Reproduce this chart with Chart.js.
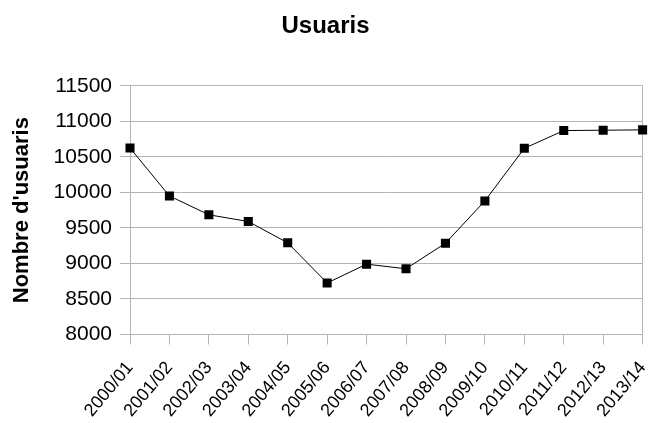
<!DOCTYPE html>
<html>
<head>
<meta charset="utf-8">
<script src="https://cdn.jsdelivr.net/npm/chart.js@4/dist/chart.umd.min.js"></script>
<style>
  html, body { margin: 0; padding: 0; background: #fff; }
  #wrap { width: 649px; height: 423px; position: relative; }
</style>
</head>
<body>
<div id="wrap"><canvas id="usuaris"></canvas></div>
<script>
const seasons = ["2000/01", "2001/02", "2002/03", "2003/04", "2004/05", "2005/06", "2006/07",
  "2007/08", "2008/09", "2009/10", "2010/11", "2011/12", "2012/13", "2013/14"];
const users = [10625, 9950, 9685, 9590, 9290, 8725, 8990, 8925, 9285, 9880, 10620, 10870, 10875, 10880];
const yMin = 8000;
const yMax = 11500;
const yStep = 500;

(function () {
  const FONT = "'Liberation Sans', Arial, sans-serif";
  const GRID = "#b3b3b3";
  const lastIdx = seasons.length - 1;

  new Chart(document.getElementById("usuaris"), {
    type: "line",
    data: {
      labels: seasons,
      datasets: [{
        label: "Usuaris",
        data: users,
        borderColor: "#000",
        borderWidth: 1,
        tension: 0,
        pointStyle: "rect",
        pointRadius: 6.4,
        pointBackgroundColor: "#000",
        pointBorderWidth: 0,
        fill: false,
      }],
    },
    options: {
      responsive: true,
      maintainAspectRatio: false,
      animation: false,
      layout: { padding: { left: 0, right: -2, top: 0, bottom: 0 } },
      plugins: {
        legend: { display: false },
        tooltip: { enabled: false },
        title: {
          display: true,
          text: "Usuaris",
          color: "#000",
          font: { family: FONT, size: 24, weight: "bold" },
          padding: { top: 12, bottom: 45 },
        },
      },
      scales: {
        x: {
          offset: false,
          grid: {
            // only the outer frame lines reach into the plot; ticks stay on every label
            color: c => (c.index === 0 || c.index === lastIdx ? GRID : "transparent"),
            tickColor: GRID,
            tickLength: 10,
            drawOnChartArea: true,
          },
          border: { color: GRID },
          ticks: {
            color: "#000",
            font: { family: FONT, size: 18 },
            minRotation: 50,
            maxRotation: 50,
            padding: 13,
            autoSkip: false,
          },
          afterFit: s => {
            s.height = 88.5;
            s.paddingLeft = 0;
            s.paddingRight = 0;
          },
        },
        y: {
          min: yMin,
          max: yMax,
          grid: { color: GRID, tickColor: GRID, tickLength: 10 },
          border: { color: GRID },
          ticks: {
            stepSize: yStep,
            color: "#000",
            font: { family: FONT, size: 21 },
            padding: 8,
            callback: v => String(v),
          },
          title: {
            display: true,
            text: "Nombre d'usuaris",
            color: "#000",
            font: { family: FONT, size: 22, weight: "bold" },
            padding: { top: 9, bottom: 0 },
          },
          afterFit: s => {
            s.width = 130;
            s.paddingTop = 0;
            s.paddingBottom = 0;
          },
        },
      },
    },
  });
})();
</script>
</body>
</html>
